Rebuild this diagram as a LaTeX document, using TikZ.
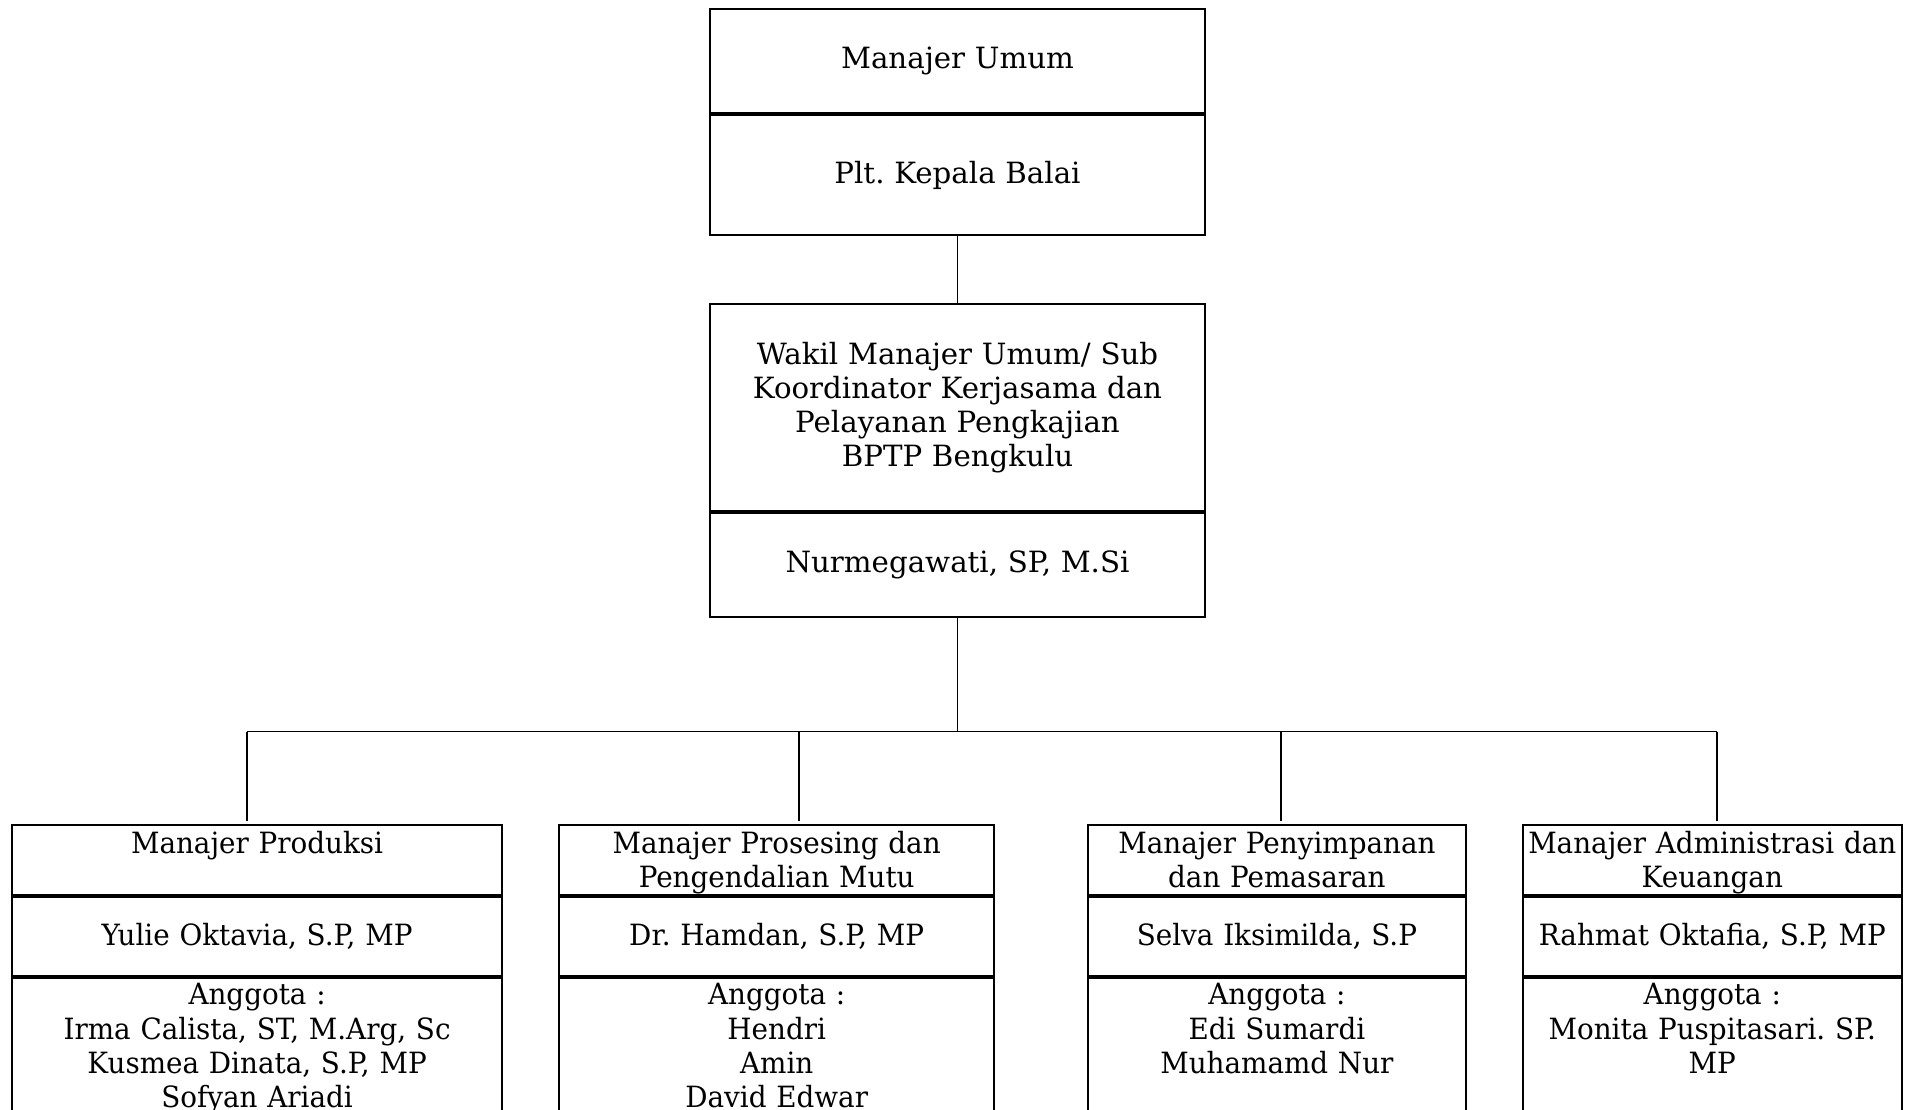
\documentclass[tikz,border=0pt]{standalone}
\usepackage{fontspec}
\setmainfont{DejaVu Serif}
\newfontfamily\narrowserif[FakeStretch=0.95]{DejaVu Serif}
\usetikzlibrary{positioning}
\frenchspacing

\begin{document}
\begin{tikzpicture}[-,x=0.41pt,y=-0.41pt,node distance=0pt,line width=0.7pt,
                    box/.style={draw,line width=0.8pt,inner xsep=0pt,inner ysep=0pt,align=center},
                    head node/.style={box,font=\fontsize{12}{14}\selectfont,text width=203.3pt,minimum height=#1},
                    unit node/.style={box,font=\narrowserif\fontsize{12}{14}\selectfont,text width=#1},
                    title/.style={minimum height=28.5pt,text height=10.5pt,text depth=16pt},
                    chief/.style={minimum height=32.6pt},
                    members/.style={inner ysep=0.9pt,text height=10pt,text depth=52pt}]

 \useasboundingbox (0,0) rectangle (1915,1110);

 \node[head node=42.6pt,anchor=north] (mu) at (957.5,8.5) {Manajer Umum};
 \node[head node=49pt] (kb) [below=of mu] {Plt. Kepala Balai};

 \node[head node=85.1pt,anchor=north] (wm) at (957.5,302.9) {Wakil Manajer Umum/ Sub\\Koordinator Kerjasama dan\\Pelayanan Pengkajian\\BPTP Bengkulu};
 \node[head node=42.6pt] (nm) [below=of wm] {Nurmegawati, SP, M.Si};

 \node[unit node=200.8pt,title,anchor=north] (pr) at (257.1,824.4) {Manajer Produksi};
 \node[unit node=200.8pt,chief] (pr chief) [below=of pr] {Yulie Oktavia, S.P, MP};
 \node[unit node=200.8pt,members] (pr team) [below=of pr chief] {Anggota :\\Irma Calista, ST, M.Arg, Sc\\Kusmea Dinata, S.P, MP\\Sofyan Ariadi};

 \node[unit node=178.3pt,title,anchor=north] (pm) at (776.7,824.4) {Manajer Prosesing dan\\Pengendalian Mutu};
 \node[unit node=178.3pt,chief] (pm chief) [below=of pm] {Dr. Hamdan, S.P, MP};
 \node[unit node=178.3pt,members] (pm team) [below=of pm chief] {Anggota :\\Hendri\\Amin\\David Edwar};

 \node[unit node=154.7pt,title,anchor=north] (ps) at (1276.9,824.4) {Manajer Penyimpanan\\dan Pemasaran};
 \node[unit node=154.7pt,chief] (ps chief) [below=of ps] {Selva Iksimilda, S.P};
 \node[unit node=154.7pt,members] (ps team) [below=of ps chief] {Anggota :\\Edi Sumardi\\Muhamamd Nur};

 \node[unit node=155.2pt,title,anchor=north] (ak) at (1712.3,824.4) {Manajer Administrasi dan\\Keuangan};
 \node[unit node=155.2pt,chief] (ak chief) [below=of ak] {Rahmat Oktafia, S.P, MP};
 \node[unit node=155.2pt,members] (ak team) [below=of ak chief] {Anggota :\\Monita Puspitasari. SP.\\MP};

 \coordinate (hub) at (957.5,731.6);
 \coordinate (j1) at (246.7,731.6);
 \coordinate (j2) at (798.7,731.6);
 \coordinate (j3) at (1281.1,731.6);
 \coordinate (j4) at (1717.2,731.6);

 \path
 (kb) edge (wm)
 (nm) edge (hub)
 (j1) edge (j4);

 \path[shorten >=1.5pt]
 (j1) edge (j1 |- pr.north)
 (j2) edge (j2 |- pm.north)
 (j3) edge (j3 |- ps.north)
 (j4) edge (j4 |- ak.north);

\end{tikzpicture}
\end{document}
